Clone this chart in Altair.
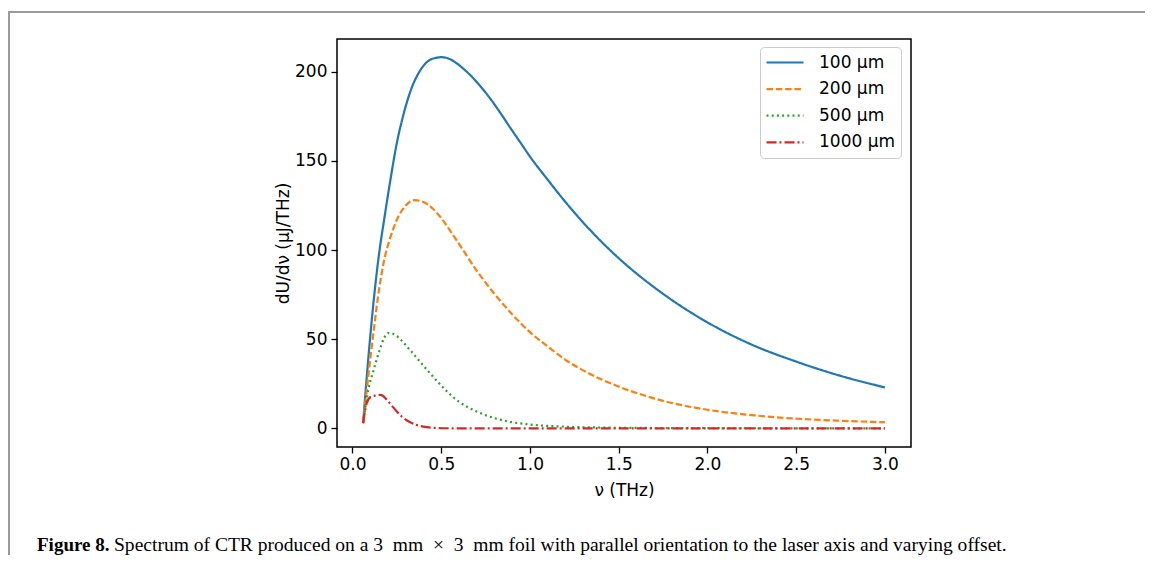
import altair as alt
import pandas as pd

# ---- data (ν in THz, dU/dν in µJ/THz) ----
series_labels = ["100 µm", "200 µm", "500 µm", "1000 µm"]
series_colors = ["#1f77b4", "#ff7f0e", "#2ca02c", "#d62728"]
series_dashes = [[1, 0], [6.5, 2.8], [2, 3.2], [10, 3, 2, 3]]

nu_100 = [0.06, 0.09, 0.12, 0.15, 0.18, 0.21, 0.25, 0.29, 0.33, 0.38, 0.43, 0.47, 0.50,
          0.54, 0.58, 0.63, 0.68, 0.72, 0.78, 0.84, 0.89, 0.95, 1.0, 1.1, 1.2, 1.3, 1.4,
          1.5, 1.75, 2.0, 2.25, 2.5, 2.75, 3.0]
u_100 = [3, 40, 72, 98, 118, 137, 160, 177, 190, 200.5, 206.3, 207.8, 208.2,
         207.5, 205.3, 201.3, 196.5, 192, 184.5, 176, 168.5, 159.8, 152.5, 139.5, 127, 115.5, 105,
         95.5, 75.5, 59.5, 47, 37.5, 29.5, 23]

nu_200 = [0.06, 0.09, 0.12, 0.15, 0.18, 0.21, 0.25, 0.30, 0.35, 0.40, 0.45, 0.50, 0.55,
          0.62, 0.70, 0.80, 0.90, 1.0, 1.1, 1.2, 1.35, 1.5, 1.75, 2.0, 2.25, 2.5, 2.75, 3.0]
u_200 = [3, 30, 55, 78, 95, 106, 117, 125, 128, 127, 123.5, 118, 111,
         100.5, 88.5, 75.5, 64, 54, 46, 38.5, 30, 23.5, 15.5, 10.5, 7.5, 5.5, 4.3, 3.5]

nu_500 = [0.06, 0.09, 0.12, 0.15, 0.18, 0.20, 0.23, 0.27, 0.32, 0.38, 0.45, 0.52, 0.60,
          0.70, 0.80, 0.90, 1.0, 1.2, 1.4, 1.7, 2.0, 2.5, 3.0]
u_500 = [3, 22, 33, 43, 51, 53.5, 53, 50, 44.5, 37.5, 29.5, 22, 15,
         9.5, 5.8, 3.5, 2.2, 1.0, 0.5, 0.25, 0.15, 0.08, 0.05]

nu_1000 = [0.06, 0.08, 0.10, 0.13, 0.16, 0.19, 0.22, 0.25, 0.28, 0.32, 0.36, 0.40, 0.45,
           0.55, 0.70, 1.0, 2.0, 3.0]
u_1000 = [3, 14, 17.5, 18.5, 18.8, 16.5, 13, 9.5, 6.5, 3.8, 2.0, 1.0, 0.4,
          0.1, 0.02, 0.0, 0.0, 0.0]

x_ticks = [0.0, 0.5, 1.0, 1.5, 2.0, 2.5, 3.0]
y_ticks = [0, 50, 100, 150, 200]

caption_bold = "Figure 8."
caption_rest = ("Spectrum of CTR produced on a 3\u2002mm\u2002\u00d7\u20023\u2002mm foil "
                "with parallel orientation to the laser axis and varying offset.")

rows = []
for lab, xs, ys in zip(series_labels, [nu_100, nu_200, nu_500, nu_1000],
                       [u_100, u_200, u_500, u_1000]):
    for a, b in zip(xs, ys):
        rows.append({"nu": a, "U": b, "offset": lab})
df = pd.DataFrame(rows)
one = pd.DataFrame({"k": [0]})

W, H = 574, 408
FONT = "DejaVu Sans"

leg = alt.Legend(title=None, orient="none", legendX=423, legendY=8)

lines = alt.Chart(df).mark_line(strokeWidth=2.2, interpolate="monotone").encode(
    x=alt.X("nu:Q", title="ν (THz)",
            scale=alt.Scale(domain=[-0.087, 3.147], nice=False, zero=False),
            axis=alt.Axis(values=x_ticks, format=".1f", titleX=W / 2, titleY=43,
                          titleBaseline="middle", titleAlign="center", labelPadding=3)),
    y=alt.Y("U:Q", title="dU/dν (µJ/THz)",
            scale=alt.Scale(domain=[-10.4, 218.4], nice=False, zero=False),
            axis=alt.Axis(values=y_ticks, format="d", titleX=-54, titleY=H / 2,
                          titleAngle=-90, titleBaseline="middle", titleAlign="center",
                          labelPadding=4)),
    color=alt.Color("offset:N", sort=series_labels,
                    scale=alt.Scale(domain=series_labels, range=series_colors),
                    legend=leg),
    strokeDash=alt.StrokeDash("offset:N", sort=series_labels,
                              scale=alt.Scale(domain=series_labels, range=series_dashes),
                              legend=leg),
)

border_top = alt.Chart(one).mark_rule(color="#9a9a9a", strokeWidth=2).encode(
    x=alt.value(-329), x2=alt.value(808), y=alt.value(-27))
border_left = alt.Chart(one).mark_rule(color="#9a9a9a", strokeWidth=2).encode(
    x=alt.value(-328), y=alt.value(-27), y2=alt.value(516))

cap1 = alt.Chart(one).mark_text(font="Liberation Serif", fontSize=19, fontWeight="bold",
                                align="left", baseline="alphabetic", color="black").encode(
    x=alt.value(-300), y=alt.value(512), text=alt.value(caption_bold))
cap2 = alt.Chart(one).mark_text(font="Liberation Serif", fontSize=19.55,
                                align="left", baseline="alphabetic", color="black").encode(
    x=alt.value(-223), y=alt.value(512), text=alt.value(caption_rest))

chart = alt.layer(lines, border_top, border_left, cap1, cap2).properties(
    width=W, height=H,
    autosize=alt.AutoSizeParams(type="none"),
    padding={"left": 329, "top": 31, "right": 234, "bottom": 108},
).configure_view(
    stroke="black", strokeWidth=1.5
).configure_axis(
    grid=False, domain=False, tickColor="black", tickWidth=1.3, tickSize=6,
    labelFont=FONT, labelFontSize=17, labelColor="black",
    titleFont=FONT, titleFontSize=17, titleFontWeight="normal", titleColor="black",
).configure_legend(
    symbolType="stroke", symbolSize=1369, symbolStrokeWidth=2.2, clipHeight=21, rowPadding=5.6,
    labelFont=FONT, labelFontSize=17, labelColor="black", labelOffset=14,
    padding=5, strokeColor="#cccccc", fillColor="white", cornerRadius=4,
)

chart.save("out.html", embed_options={"renderer": "svg", "actions": False})
